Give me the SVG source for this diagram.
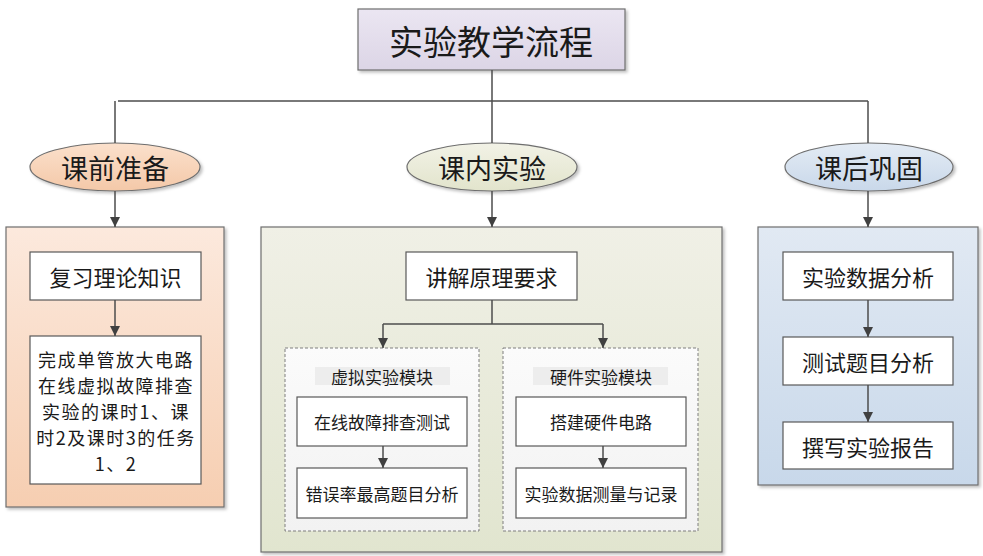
<svg xmlns="http://www.w3.org/2000/svg" width="983" height="556" viewBox="0 0 983 556">
<defs>
<linearGradient id="gTitle" x1="0" y1="0" x2="0" y2="1"><stop offset="0" stop-color="#ebe6f2"/><stop offset="1" stop-color="#dcd5e6"/></linearGradient>
<linearGradient id="gPeach" x1="0" y1="0" x2="0" y2="1"><stop offset="0" stop-color="#fce9dd"/><stop offset="1" stop-color="#f6ceb1"/></linearGradient>
<linearGradient id="gGreen" x1="0" y1="0" x2="0" y2="1"><stop offset="0" stop-color="#f0f0e6"/><stop offset="1" stop-color="#e1e5cf"/></linearGradient>
<linearGradient id="gBlue" x1="0" y1="0" x2="0" y2="1"><stop offset="0" stop-color="#e1e9f3"/><stop offset="1" stop-color="#c8d8ea"/></linearGradient>
<linearGradient id="gEllPeach" x1="0" y1="0" x2="0" y2="1"><stop offset="0" stop-color="#fbe0cc"/><stop offset="1" stop-color="#f4c8a8"/></linearGradient>
<linearGradient id="gEllGreen" x1="0" y1="0" x2="0" y2="1"><stop offset="0" stop-color="#f2f2e6"/><stop offset="1" stop-color="#e2e4cc"/></linearGradient>
<linearGradient id="gEllBlue" x1="0" y1="0" x2="0" y2="1"><stop offset="0" stop-color="#e3ebf4"/><stop offset="1" stop-color="#c9d8ea"/></linearGradient>
<linearGradient id="gDash" x1="0" y1="0" x2="0" y2="1"><stop offset="0" stop-color="#fbfbfb"/><stop offset="1" stop-color="#f2f2f2"/></linearGradient>
<filter id="sh" x="-10%" y="-10%" width="120%" height="120%"><feDropShadow dx="2" dy="2" stdDeviation="1.5" flood-color="#000" flood-opacity="0.25"/></filter>
<marker id="arr" viewBox="0 0 10 10" refX="10" refY="5" markerWidth="10" markerHeight="10" markerUnits="userSpaceOnUse" orient="auto"><path d="M0,0 L10,5 L0,10 z" fill="#404040"/></marker>
</defs>
<style>
text{font-family:"Microsoft YaHei","Noto Sans CJK SC","Noto Sans",sans-serif;fill:#1a1a1a;text-anchor:middle;dominant-baseline:central}
.box{fill:#fff;stroke:#595959;stroke-width:1.2}
.outer{stroke:#6e6e6e;stroke-width:1.2}
.ell{stroke:#6e6e6e;stroke-width:1.2}
.dash{fill:url(#gDash);stroke:#7f7f7f;stroke-width:1;stroke-dasharray:3,2}
.band{fill:#ededed}
.c{fill:none;stroke:#4d4d4d;stroke-width:1.5}
.a{fill:none;stroke:#4d4d4d;stroke-width:1.5;marker-end:url(#arr)}
.t22{font-size:22px}
.t17{font-size:17px}
</style>
<g id="title"><rect x="358" y="9" width="267" height="61" fill="url(#gTitle)" stroke="#6e6e6e" stroke-width="1.2" filter="url(#sh)"/><text x="491" y="40" style="font-size:34px">实验教学流程</text></g>
<g id="pre"><ellipse cx="115" cy="167" rx="85" ry="24" class="ell" fill="url(#gEllPeach)" filter="url(#sh)"/><text x="115" y="167" style="font-size:27px">课前准备</text></g>
<g id="in"><ellipse cx="492" cy="167" rx="85" ry="24" class="ell" fill="url(#gEllGreen)" filter="url(#sh)"/><text x="492" y="167" style="font-size:27px">课内实验</text></g>
<g id="post"><ellipse cx="869" cy="167" rx="84" ry="24" class="ell" fill="url(#gEllBlue)" filter="url(#sh)"/><text x="869" y="167" style="font-size:27px">课后巩固</text></g>
<g id="preBox"><rect x="6" y="227" width="218" height="280" class="outer" fill="url(#gPeach)" filter="url(#sh)"/></g>
<g id="inBox"><rect x="261" y="227" width="461" height="325" class="outer" fill="url(#gGreen)" filter="url(#sh)"/></g>
<g id="postBox"><rect x="758" y="227" width="220" height="258" class="outer" fill="url(#gBlue)" filter="url(#sh)"/></g>
<g id="review"><rect x="30" y="252" width="171" height="48" class="box"/><text x="115.5" y="276" class="t22">复习理论知识</text></g>
<g id="task"><rect x="30" y="336" width="171" height="148" class="box"/>
<text x="115.5" style="font-size:18px;letter-spacing:1.5px"><tspan x="116" y="359">完成单管放大电路</tspan><tspan x="116" y="385">在线虚拟故障排查</tspan><tspan x="116" y="411">实验的课时1、课</tspan><tspan x="116" y="437">时2及课时3的任务</tspan><tspan x="116" y="463">1、2</tspan></text></g>
<g id="explain"><rect x="406" y="252" width="171" height="48" class="box"/><text x="491.5" y="276" class="t22">讲解原理要求</text></g>
<g id="virtual"><rect x="285" y="348" width="194" height="183" class="dash"/><rect x="315" y="367" width="135" height="18" class="band"/><text x="382" y="376" class="t17">虚拟实验模块</text></g>
<g id="hardware"><rect x="503" y="348" width="195" height="183" class="dash"/><rect x="533" y="367" width="135" height="18" class="band"/><text x="601" y="376" class="t17">硬件实验模块</text></g>
<g id="v1"><rect x="297" y="397" width="170" height="49" class="box"/><text x="382" y="421.5" class="t17">在线故障排查测试</text></g>
<g id="v2"><rect x="297" y="468" width="170" height="50" class="box"/><text x="382" y="493" class="t17">错误率最高题目分析</text></g>
<g id="h1"><rect x="516" y="397" width="170" height="49" class="box"/><text x="601" y="421.5" class="t17">搭建硬件电路</text></g>
<g id="h2"><rect x="516" y="468" width="170" height="50" class="box"/><text x="601" y="493" class="t17">实验数据测量与记录</text></g>
<g id="p1"><rect x="783" y="252" width="170" height="48" class="box"/><text x="868" y="276" class="t22">实验数据分析</text></g>
<g id="p2"><rect x="783" y="337" width="170" height="48" class="box"/><text x="868" y="361" class="t22">测试题目分析</text></g>
<g id="p3"><rect x="783" y="422" width="170" height="47" class="box"/><text x="868" y="445.5" class="t22">撰写实验报告</text></g>
<g id="connectors">
<path class="c" d="M492,70 V101 M118,101 H868"/>
<path class="c" d="M115,101 V143 M492,101 V143 M868,101 V143"/>
<path class="a" d="M115,191 V227"/>
<path class="a" d="M492,191 V227"/>
<path class="a" d="M868,191 V227"/>
<path class="a" d="M115,300 V336"/>
<path class="c" d="M492,300 V324 M383,324 H603"/>
<path class="a" d="M383,324 V348"/>
<path class="a" d="M603,324 V348"/>
<path class="a" d="M383,446 V468"/>
<path class="a" d="M603,446 V468"/>
<path class="a" d="M868,300 V337"/>
<path class="a" d="M868,385 V422"/>
</g>
</svg>
